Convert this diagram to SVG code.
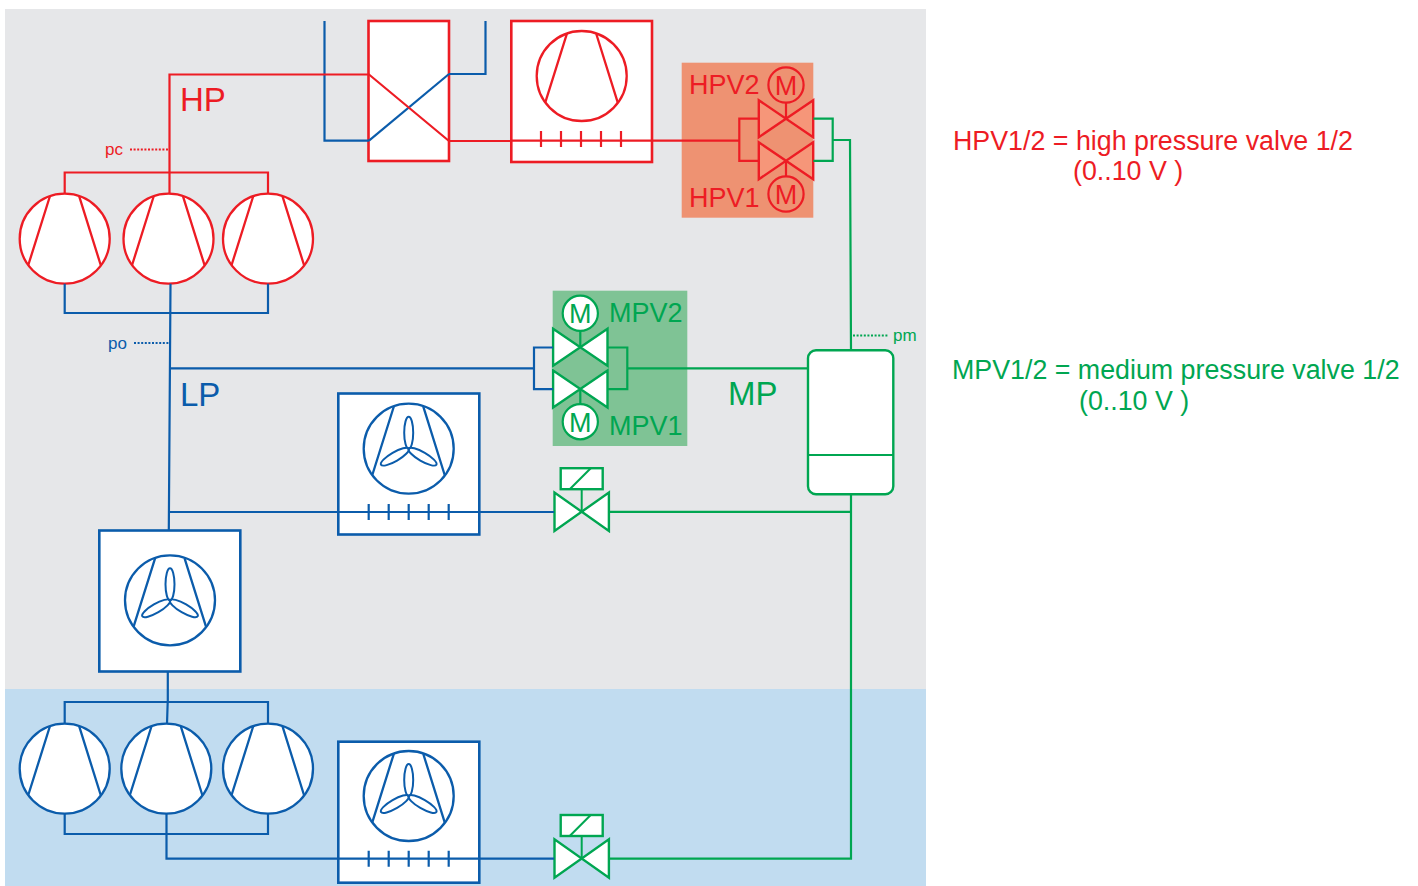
<svg xmlns="http://www.w3.org/2000/svg" xmlns:xlink="http://www.w3.org/1999/xlink" width="1418" height="886" viewBox="0 0 1418 886">
<style>
text{font-family:"Liberation Sans",Arial,sans-serif}
.r{stroke:#ed1c24;color:#ed1c24}.b{stroke:#0b5cab;color:#0b5cab}.g{stroke:#00a651;color:#00a651}
.tr{fill:#ed1c24}.tb{fill:#0b5cab}.tg{fill:#00a651}
.p{fill:none;stroke-width:2.2;stroke-linejoin:miter}
.dot{fill:none;stroke-width:2;stroke-dasharray:2 1.6}
.frame{fill:#fff;stroke-width:2.6}
.t15{font-size:17px}.t33{font-size:33px}.t27{font-size:27px}.t25{font-size:26.8px}
.m{font-size:27px;text-anchor:middle}
.v{stroke-width:2.2;stroke-linejoin:miter}
</style>
<defs>
<g id="comp" fill="#fff" stroke="currentColor" stroke-width="2.3"><circle r="45"/><path d="M-14.7-42.7L-36.4 26.3M14.6-42L36 26.3" fill="none"/></g>
<g id="fan" fill="none" stroke="currentColor" stroke-width="2"><ellipse cy="-16" rx="4.5" ry="16"/><ellipse cy="-16" rx="4.5" ry="16" transform="rotate(120)"/><ellipse cy="-16" rx="4.5" ry="16" transform="rotate(240)"/></g>
<path id="ticks" d="M-40-8V8M-20-8V8M0-8V8M20-8V8M40-8V8" fill="none" stroke="currentColor" stroke-width="2.2"/>
<path id="valve" d="M-27.2-18.5V18.5L27.2-18.5V18.5Z" stroke-width="2.4"/>
<g id="sol" fill="#fff" stroke="currentColor" stroke-width="2.4"><path d="M0-22.5V0" fill="none" stroke-width="2"/><rect x="-21" y="-43.5" width="42" height="21"/><path d="M-12-22.5L9-43.5" fill="none" stroke-width="2"/><path d="M-27.2-19.2V19.2L27.2-19.2V19.2Z"/></g>
</defs>

<rect id="zone-grey" x="5" y="9" width="921" height="680" fill="#e6e7e9"/>
<rect id="zone-blue" x="5" y="689" width="921" height="197" fill="#c1dcf0"/>

<g id="hp-comp-1" class="r"><use href="#comp" x="64.7" y="238.7"/></g>
<g id="hp-comp-2" class="r"><use href="#comp" x="168.5" y="238.7"/></g>
<g id="hp-comp-3" class="r"><use href="#comp" x="268" y="238.7"/></g>
<g id="lp-comp-1" class="b"><use href="#comp" x="64.7" y="768.7"/></g>
<g id="lp-comp-2" class="b"><use href="#comp" x="166.3" y="768.7"/></g>
<g id="lp-comp-3" class="b"><use href="#comp" x="268" y="768.7"/></g>

<g id="heat-exchanger" class="r"><rect class="frame" x="368.5" y="21" width="80.5" height="140"/></g>
<g id="gas-cooler" class="r"><rect class="frame" x="511.3" y="21" width="140.7" height="141"/><use href="#comp" x="581.7" y="76"/><use href="#ticks" x="581" y="139"/></g>
<g id="evap-mt" class="b"><rect class="frame" x="338.3" y="393.5" width="141" height="141"/><use href="#comp" x="408.7" y="448.7"/><use href="#fan" x="408.7" y="448.7"/><use href="#ticks" x="408.7" y="512"/></g>
<g id="gas-cooler-lp" class="b"><rect class="frame" x="99.3" y="530.5" width="141" height="141"/><use href="#comp" x="170" y="600.3"/><use href="#fan" x="170" y="600.3"/></g>
<g id="evap-lt" class="b"><rect class="frame" x="338.3" y="741.7" width="141" height="141"/><use href="#comp" x="408.7" y="796"/><use href="#fan" x="408.7" y="796"/><use href="#ticks" x="408.7" y="858.7"/></g>

<g id="hpv-group">
<rect x="681.7" y="62.7" width="131.6" height="155" fill="#ee9272"/>
<g class="r" fill="#f69679"><path class="v" d="M786 118.5V102" fill="none"/><path class="v" d="M786 160V177" fill="none"/>
<use href="#valve" x="786" y="118.7"/><use href="#valve" x="786" y="160.8"/>
<circle cx="786" cy="85" r="17.6" fill="none" stroke-width="2.2"/><circle cx="786" cy="194" r="17.6" fill="none" stroke-width="2.2"/></g>
<text class="tr m" x="786" y="95">M</text><text class="tr m" x="786" y="204">M</text>
<text class="tr t27" x="689" y="94">HPV2</text><text class="tr t27" x="689" y="207">HPV1</text>
</g>

<g id="mpv-group">
<rect x="552.7" y="290.7" width="134.6" height="155.3" fill="#7fc395"/>
<g class="g" fill="#fff"><path class="v" d="M580.3 347V330M580.3 389V405" fill="none"/>
<use href="#valve" x="580.3" y="347.3"/><use href="#valve" x="580.3" y="389"/>
<circle cx="580.3" cy="313.3" r="17.6" stroke-width="2.2"/><circle cx="580.3" cy="421.7" r="17.6" stroke-width="2.2"/></g>
<text class="tg m" x="580.3" y="323.3">M</text><text class="tg m" x="580.3" y="431.7">M</text>
<text class="tg t27" x="609" y="322">MPV2</text><text class="tg t27" x="609" y="435">MPV1</text>
</g>

<g id="solenoid-1" class="g"><use href="#sol" x="581.7" y="511.7"/></g>
<g id="solenoid-2" class="g"><use href="#sol" x="581.7" y="858.5"/></g>

<g id="receiver" class="g"><rect x="808" y="350.3" width="85.3" height="144" rx="8" fill="#fff" stroke-width="2.4"/><path d="M808 455H893.3" fill="none" stroke-width="2.2"/></g>

<g id="connectors">
<path class="p b" d="M324.5 21V140.7H369M449 74H485.5V21"/>
<path class="p b" d="M369 140.7L449 74"/>
<path class="p r" d="M64.7 193.7V172.5H268V193.7M169.5 193.7V74.5H369L449 141H511M511 140.7H739"/>
<path class="p r" d="M758.7 118.7H739.3V160.8H758.7"/>
<path class="p g" d="M813.3 118.7H832.7V160.8H813.3M832.7 140H850L851 350"/>
<path class="p b" d="M64.7 283.7V313H268V283.7M170.5 283.7L168.8 530.5M170 368.4H534M553 347.5H534V389.2H553M169 512H554"/>
<path class="p g" d="M607.5 347.5H627.3V389.2H607.5M627.3 368.4H808"/>
<path class="p g" d="M609 511.9H851M851 494.3V858.6H609"/>
<path class="p b" d="M167.8 671.5V702M64.7 723.7V702H268V723.7M167.7 702L167 723.7M64.7 813.7V834H268V813.7M166.5 813.7V858.7H554"/>
<path class="dot r" d="M130 149.5H168"/>
<path class="dot b" d="M134 343H169"/>
<path class="dot g" d="M853 335.5H889"/>
</g>

<g id="labels">
<text class="tr t33" x="180" y="111">HP</text>
<text class="tb t33" x="180" y="406">LP</text>
<text class="tg t33" x="728" y="405">MP</text>
<text class="tr t15" x="105" y="155">pc</text>
<text class="tb t15" x="108" y="349">po</text>
<text class="tg t15" x="893" y="341">pm</text>
<text class="tr t25" x="953" y="150">HPV1/2 = high pressure valve 1/2</text>
<text class="tr t25" x="1073" y="180">(0..10 V )</text>
<text class="tg t25" x="952" y="379">MPV1/2 = medium pressure valve 1/2</text>
<text class="tg t25" x="1079" y="409.5">(0..10 V )</text>
</g>
</svg>
